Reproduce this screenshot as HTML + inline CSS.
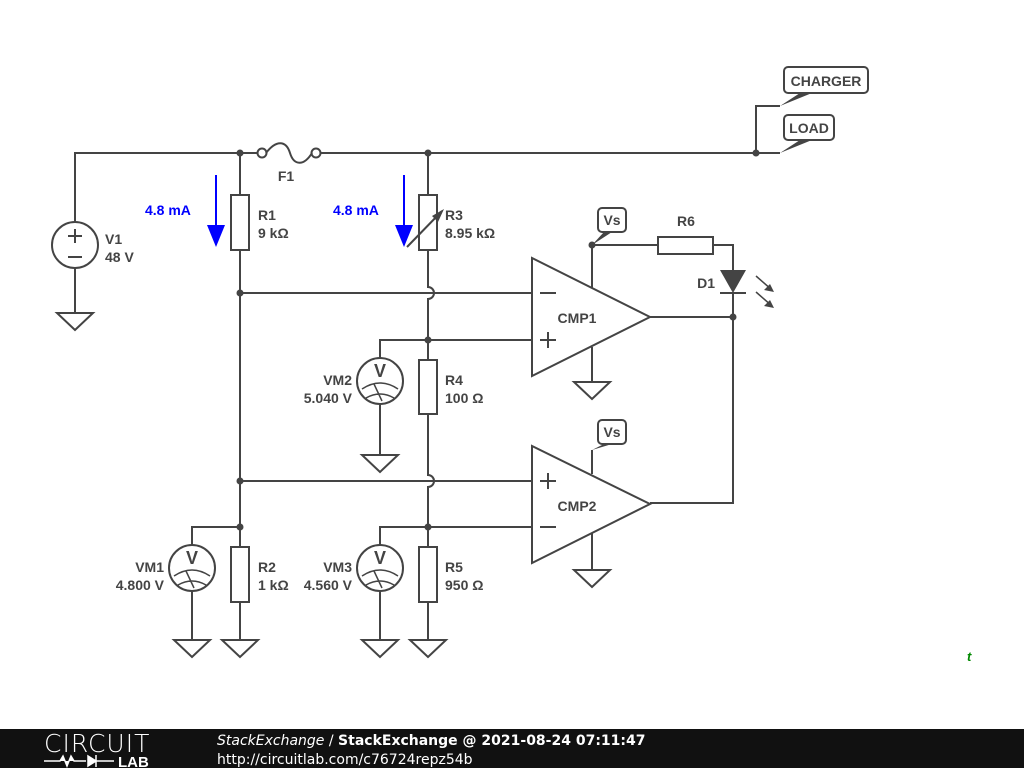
<!DOCTYPE html>
<html><head><style>
body{margin:0;width:1024px;height:768px;background:#fff;overflow:hidden;font-family:"Liberation Sans",sans-serif}
</style></head><body>
<svg width="1024" height="768" viewBox="0 0 1024 768" xmlns="http://www.w3.org/2000/svg">
<defs>
<g id="gnd"><path d="M0 0V10M-18 10H18L0 27Z" fill="none" stroke="#444" stroke-width="2"/></g>
<g id="vm"><circle r="23" fill="#fff" stroke="#444" stroke-width="2"/><path d="M-18 8Q0 -4 18 8M-14 17Q0 9 14 17M-6 3L2 20" fill="none" stroke="#444" stroke-width="1.5"/><text x="0" y="-4" text-anchor="middle" font-size="18" font-weight="bold" fill="#444">V</text></g>
</defs>
<g fill="none" stroke="#444" stroke-width="2">
<path d="M75 222V153H258M316 153H780M756 153V106H780"/>
<circle cx="262" cy="153" r="4.5" fill="#fff"/><circle cx="316" cy="153" r="4.5" fill="#fff"/>
<path d="M266 153C276 140 286 140 290 153S304 166 312 153"/>
<circle cx="75" cy="245" r="23"/><path d="M75 268V313"/>
<path d="M68 236H82M75 229V243M68 257H82"/>
<path d="M240 153V195M240 250V630"/><rect x="231" y="195" width="18" height="55" fill="#fff"/>
<rect x="231" y="547" width="18" height="55" fill="#fff"/>
<path d="M428 153V195M428 250V287A6 6 0 0 1 428 299V360M428 414V475A6 6 0 0 1 428 487V547M428 602V630"/>
<rect x="419" y="195" width="18" height="55" fill="#fff"/>
<rect x="419" y="360" width="18" height="54" fill="#fff"/>
<rect x="419" y="547" width="18" height="55" fill="#fff"/>
<path d="M407 247L442 211"/>
<path d="M240 293H532M380 358V340H532M240 481H532M192 545V527H240M380 545V527H532"/>
<path d="M380 404V455M192 591V630M380 591V630"/>
<path d="M532 258V376L650 317Z"/>
<path d="M592 245V288M592 347V382M650 317H733M592 245H658M713 245H733V270M733 293V503H650"/>
<rect x="658" y="237" width="55" height="17" fill="#fff"/>
<path d="M720 293H746"/>
<path d="M532 446V563L650 504Z"/><path d="M592 450V474M592 533V570"/>
<path d="M540 293H556M540 340H556M548 332V348M540 481H556M548 473V489M540 527H556"/>
<rect x="784" y="67" width="84" height="26" rx="4" fill="#fff"/>
<rect x="784" y="115" width="50" height="25" rx="4" fill="#fff"/>
<rect x="598" y="208" width="28" height="24" rx="4" fill="#fff"/>
<rect x="598" y="420" width="28" height="24" rx="4" fill="#fff"/>
<path d="M756 276L772 290M756 292L772 306" stroke-width="1.5"/>
</g>
<g fill="#444">
<path d="M720 270H746L733 293Z"/>
<path d="M774 292L764 290L770 284ZM774 308L764 306L770 300Z"/>
<path d="M780 106L800 93H812ZM780 153L800 140H812ZM592 245L604 232H612ZM592 450L604 444H612Z"/>
<path d="M444 209L432 216L438 222Z"/>
<circle cx="240" cy="153" r="3.5"/><circle cx="428" cy="153" r="3.5"/><circle cx="756" cy="153" r="3.5"/>
<circle cx="240" cy="293" r="3.5"/><circle cx="428" cy="340" r="3.5"/><circle cx="240" cy="481" r="3.5"/>
<circle cx="240" cy="527" r="3.5"/><circle cx="428" cy="527" r="3.5"/><circle cx="733" cy="317" r="3.5"/><circle cx="592" cy="245" r="3.5"/>
</g>
<use href="#gnd" x="75" y="303"/>
<use href="#gnd" x="592" y="372"/><use href="#gnd" x="592" y="560"/>
<use href="#gnd" x="380" y="445"/>
<use href="#gnd" x="192" y="630"/><use href="#gnd" x="240" y="630"/>
<use href="#gnd" x="380" y="630"/><use href="#gnd" x="428" y="630"/>
<use href="#vm" x="380" y="381"/><use href="#vm" x="192" y="568"/><use href="#vm" x="380" y="568"/>
<g stroke="#00f" stroke-width="2" fill="#00f"><path d="M216 175V228M404 175V228"/><path d="M207 225H225L216 247ZM395 225H413L404 247Z" stroke="none"/></g>
<g font-size="14" font-weight="bold" fill="#444">
<text x="286" y="181" text-anchor="middle">F1</text>
<text x="105" y="244">V1</text><text x="105" y="262">48 V</text>
<text x="258" y="220">R1</text><text x="258" y="238">9 kΩ</text>
<text x="445" y="220">R3</text><text x="445" y="238">8.95 kΩ</text>
<text x="445" y="385">R4</text><text x="445" y="403">100 Ω</text>
<text x="258" y="572">R2</text><text x="258" y="590">1 kΩ</text>
<text x="445" y="572">R5</text><text x="445" y="590">950 Ω</text>
<text x="352" y="385" text-anchor="end">VM2</text><text x="352" y="403" text-anchor="end">5.040 V</text>
<text x="164" y="572" text-anchor="end">VM1</text><text x="164" y="590" text-anchor="end">4.800 V</text>
<text x="352" y="572" text-anchor="end">VM3</text><text x="352" y="590" text-anchor="end">4.560 V</text>
<text x="577" y="323" text-anchor="middle">CMP1</text><text x="577" y="511" text-anchor="middle">CMP2</text>
<text x="686" y="226" text-anchor="middle">R6</text><text x="715" y="288" text-anchor="end">D1</text>
<text x="612" y="225" text-anchor="middle">Vs</text><text x="612" y="437" text-anchor="middle">Vs</text>
<text x="826" y="86" text-anchor="middle">CHARGER</text><text x="809" y="133" text-anchor="middle">LOAD</text>
</g>
<g font-size="14" font-weight="bold" fill="#00f"><text x="145" y="215">4.8 mA</text><text x="333" y="215">4.8 mA</text></g>
<text x="967" y="661" font-size="13" font-weight="bold" font-style="italic" fill="#080">t</text>
<rect x="0" y="729" width="1024" height="39" fill="#111"/>
<text x="44" y="752" font-size="25" fill="#fff" font-family="DejaVu Sans" font-weight="200" letter-spacing="1">CIRCUIT</text>
<path d="M44 761H60l3-5 4 10 4-10 3 5h12M96 755v12M88 756l8 5-8 5z M96 761h18" stroke="#fff" fill="#fff" stroke-width="1.5"/>
<text x="118" y="767" font-size="15" font-weight="bold" fill="#fff">LAB</text>
<text x="217" y="745" font-size="14" fill="#fff" font-family="DejaVu Sans"><tspan font-style="italic">StackExchange</tspan> / <tspan font-weight="bold">StackExchange @ 2021-08-24 07:11:47</tspan></text>
<text x="217" y="764" font-size="14" fill="#fff" font-family="DejaVu Sans">http://circuitlab.com/c76724repz54b</text>
</svg>
</body></html>
